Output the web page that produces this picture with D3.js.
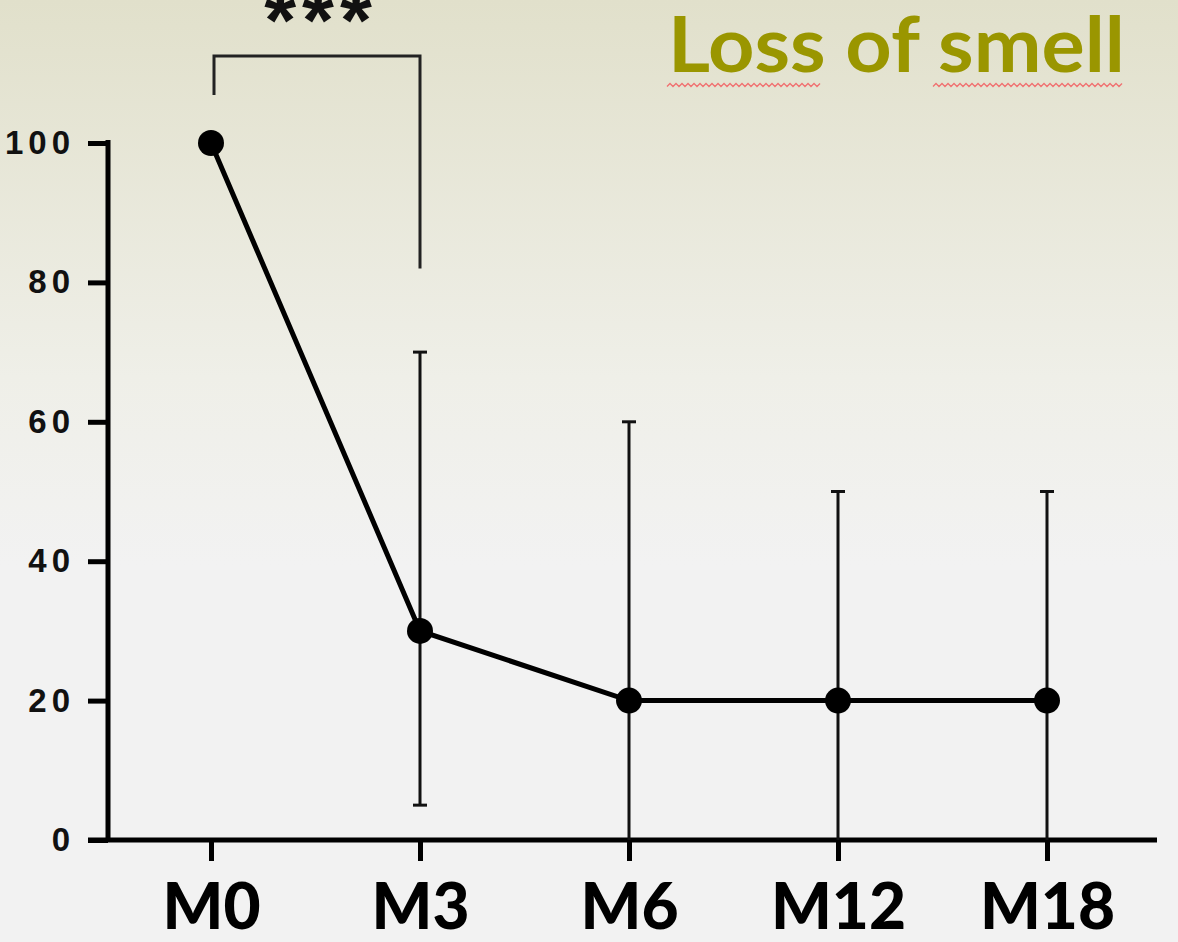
<!DOCTYPE html>
<html>
<head>
<meta charset="utf-8">
<script src="https://cdn.jsdelivr.net/npm/d3@7"></script>
<style>
  html, body { margin: 0; padding: 0; background: #f2f2f2; }
  svg { display: block; }
</style>
</head>
<body>
<script>
// Data
let categories = ["M0", "M3", "M6", "M12", "M18"];
let means = [100, 30, 20, 20, 20];
let errUpper = [null, 70, 60, 50, 50];
let errLower = [null, 5, 0, 0, 0];
let yTicks = [0, 20, 40, 60, 80, 100];
let titleText = "Loss of smell";
let sigLabel = "***";
let sigPair = ["M0", "M3"];

const W = 1178, H = 942;
let svg = d3.select("body").append("svg")
  .attr("width", W).attr("height", H);

// background gradient
let defs = svg.append("defs");
let grad = defs.append("linearGradient")
  .attr("id", "bg").attr("x1", 0).attr("y1", 0).attr("x2", 0).attr("y2", 1);
grad.append("stop").attr("offset", "0%").attr("stop-color", "#e1e0cb");
grad.append("stop").attr("offset", "40%").attr("stop-color", "#efefe8");
grad.append("stop").attr("offset", "60%").attr("stop-color", "#f2f2f2");
grad.append("stop").attr("offset", "100%").attr("stop-color", "#f2f2f2");
svg.append("rect").attr("width", W).attr("height", H).attr("fill", "url(#bg)");

// scales
let x = d3.scalePoint().domain(categories).range([211, 1047]);
let y = d3.scaleLinear().domain([0, 100]).range([840, 143]);

// axes
let yAxis = svg.append("g").attr("transform", "translate(108,0)")
  .call(d3.axisLeft(y).tickValues(yTicks).tickSize(20).tickPadding(13));
yAxis.select(".domain").attr("d", "M0," + (y(100) - 3) + "V" + y(0))
  .attr("stroke", "#000").attr("stroke-width", 5);
yAxis.selectAll(".tick line").attr("stroke", "#000").attr("stroke-width", 5);
yAxis.selectAll(".tick text")
  .attr("fill", "#111")
  .style("font-family", "'Liberation Sans', Arial, sans-serif")
  .style("font-weight", "bold")
  .style("font-size", "33px")
  .style("letter-spacing", "5px");

let xAxis = svg.append("g").attr("transform", "translate(0,840)")
  .call(d3.axisBottom(x).tickSize(21).tickPadding(20));
xAxis.select(".domain").attr("d", "M88,0H1157")
  .attr("stroke", "#000").attr("stroke-width", 5);
xAxis.selectAll(".tick line").attr("stroke", "#000").attr("stroke-width", 5);
xAxis.selectAll(".tick text")
  .attr("fill", "#000")
  .attr("dy", "0.75em")
  .style("font-family", "Lato, 'Open Sans', sans-serif")
  .style("font-weight", "900")
  .style("font-size", "64px");

// error bars
let eb = svg.append("g").attr("stroke", "#111").attr("stroke-width", 3);
categories.forEach(function(c, i) {
  if (errUpper[i] == null) return;
  eb.append("line").attr("x1", x(c)).attr("x2", x(c))
    .attr("y1", y(errUpper[i])).attr("y2", y(errLower[i]));
  eb.append("line").attr("x1", x(c) - 7).attr("x2", x(c) + 7)
    .attr("y1", y(errUpper[i])).attr("y2", y(errUpper[i]));
  if (errLower[i] > 0) {
    eb.append("line").attr("x1", x(c) - 7).attr("x2", x(c) + 7)
      .attr("y1", y(errLower[i])).attr("y2", y(errLower[i]));
  }
});

// line + markers
let line = d3.line().x((d, i) => x(categories[i])).y(d => y(d));
svg.append("path").datum(means)
  .attr("d", line).attr("fill", "none")
  .attr("stroke", "#000").attr("stroke-width", 5);
svg.selectAll(".dot").data(means).enter().append("circle")
  .attr("class", "dot")
  .attr("cx", (d, i) => x(categories[i])).attr("cy", d => y(d))
  .attr("r", 13).attr("fill", "#000");

// significance bracket
let bx0 = x(sigPair[0]) + 3, bx1 = x(sigPair[1]);
svg.append("path")
  .attr("d", "M" + bx0 + ",95V56H" + bx1 + "V" + y(82))
  .attr("fill", "none").attr("stroke", "#222").attr("stroke-width", 3);
svg.append("text")
  .attr("x", (bx0 + bx1) / 2 + 4).attr("y", 48)
  .attr("text-anchor", "middle")
  .style("font-family", "'Liberation Sans', Arial, sans-serif")
  .style("font-weight", "bold")
  .style("font-size", "82px")
  .style("letter-spacing", "6px")
  .attr("fill", "#111")
  .text(sigLabel);

// title
svg.append("text")
  .attr("x", 668).attr("y", 72)
  .attr("textLength", 457).attr("lengthAdjust", "spacingAndGlyphs")
  .style("font-family", "Lato, 'Open Sans', sans-serif")
  .style("font-weight", "bold")
  .style("font-size", "76px")
  .attr("fill", "#9a9600")
  .text(titleText);

// spell-check squiggles
function squiggle(x0, x1, yy) {
  let pts = [];
  for (let xx = x0, k = 0; xx <= x1; xx += 3, k++) pts.push([xx, yy + (k % 2 ? -1.5 : 1.5)]);
  svg.append("path").attr("d", d3.line()(pts))
    .attr("fill", "none").attr("stroke", "#f07070").attr("stroke-width", 1.3);
}
squiggle(667, 820, 85);
squiggle(933, 1124, 85);
</script>
</body>
</html>
